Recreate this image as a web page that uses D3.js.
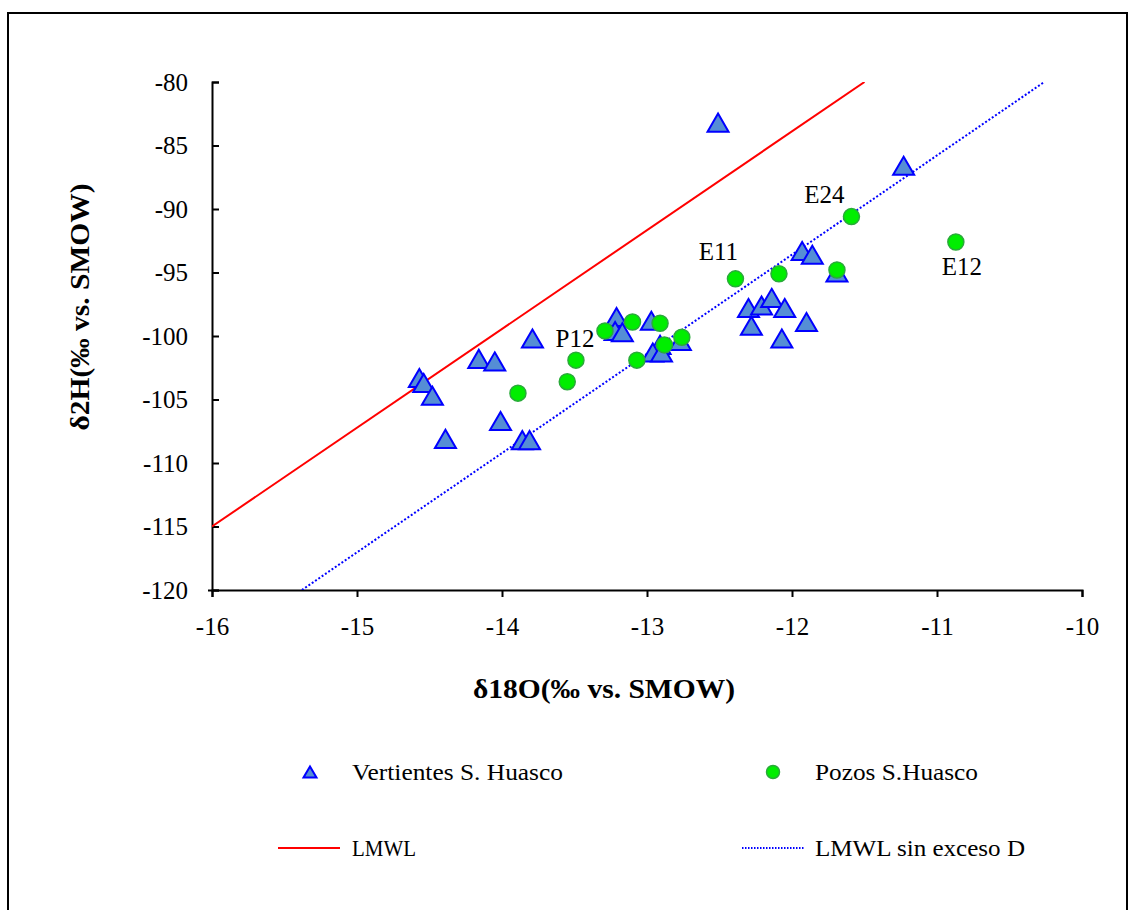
<!DOCTYPE html>
<html>
<head>
<meta charset="utf-8">
<script src="https://cdn.jsdelivr.net/npm/d3@7"></script>
<style>
  body { margin: 0; background: #fff; }
  svg text { font-family: "Liberation Serif", "Times New Roman", serif; fill: #000; }
</style>
</head>
<body>
<svg id="chart"></svg>
<script>
// Vertientes S. Huasco (triangles)
const vertO18 = [-12.51, -11.23, -11.93, -11.86, -11.69, -12.30, -12.21, -12.14, -12.05, -12.28,
  -11.90, -12.07, -13.21, -13.22, -13.17, -12.97, -12.91, -12.96, -12.90, -12.77,
  -13.79, -14.16, -14.05, -14.57, -14.54, -14.48, -14.01, -14.39, -13.86, -13.81];
const vertH2 = [-83.2, -86.6, -93.3, -93.6, -95.0, -97.8, -97.6, -97.0, -97.8, -99.2,
  -98.9, -100.2, -98.5, -99.6, -99.7, -98.8, -100.7, -101.3, -101.3, -100.4,
  -100.2, -101.8, -102.0, -103.3, -103.7, -104.7, -106.7, -108.1, -108.2, -108.2];

// Pozos S.Huasco (circles)
const pozoNames = ['E24', 'E12', 'E11', '', '', '', '', '', '', '', '', 'P12', '', ''];
const pozoO18 = [-11.59, -10.87, -12.39, -12.09, -11.69, -13.29, -13.10, -12.91, -12.76, -12.88,
  -13.07, -13.49, -13.55, -13.89];
const pozoH2 = [-90.6, -92.6, -95.5, -95.1, -94.8, -99.6, -98.9, -99.0, -100.1, -100.7,
  -101.9, -101.9, -103.6, -104.5];

// reference lines, end points
const lmwl = [[-16, -115], [-11.5, -80]];
const lmwlSinExceso = [[-15.38, -120], [-10.26, -80]];

const xTicks = [-16, -15, -14, -13, -12, -11, -10];
const yTicks = [-80, -85, -90, -95, -100, -105, -110, -115, -120];

const width = 1130, height = 910;
const margin = { top: 82, right: 48, bottom: 320, left: 212 };
const serif = '"Liberation Serif", "Times New Roman", serif';

const svg = d3.select('#chart').attr('width', width).attr('height', height);

// outer frame
svg.append('rect')
  .attr('x', 8).attr('y', 13)
  .attr('width', 1119).attr('height', 930)
  .attr('fill', 'none').attr('stroke', '#000').attr('stroke-width', 2);

const x = d3.scaleLinear().domain([-16, -10]).range([margin.left, width - margin.right]);
const y = d3.scaleLinear().domain([-120, -80]).range([height - margin.bottom, margin.top]);

svg.append('defs').append('clipPath').attr('id', 'plot')
  .append('rect')
  .attr('x', x(-16)).attr('y', y(-80))
  .attr('width', x(-10) - x(-16)).attr('height', y(-120) - y(-80));

// axes (plain hyphen minus like the original)
const fmt = d => String(d);
const xAxis = svg.append('g')
  .attr('transform', `translate(0,${y(-120)})`)
  .call(d3.axisBottom(x).tickValues(xTicks).tickSize(7).tickPadding(20).tickFormat(fmt));
const yAxis = svg.append('g')
  .attr('transform', `translate(${x(-16)},0)`)
  .call(d3.axisRight(y).tickValues(yTicks).tickSize(7).tickFormat(fmt));

[xAxis, yAxis].forEach(g => {
  g.attr('font-family', serif).attr('font-size', 25);
  g.select('.domain').attr('stroke', '#000').attr('stroke-width', 2);
  g.selectAll('.tick line').attr('stroke', '#000').attr('stroke-width', 2);
  g.selectAll('text').attr('fill', '#000');
});
// y labels sit left of the axis while ticks point inward
yAxis.selectAll('text').attr('x', -24).attr('text-anchor', 'end');
yAxis.selectAll('.tick').filter(d => d === -120).select('line').attr('x1', -4);

// lines
const line = d3.line().x(d => x(d[0])).y(d => y(d[1]));
const lines = svg.append('g').attr('clip-path', 'url(#plot)');
lines.append('path').datum(lmwl)
  .attr('d', line).attr('fill', 'none').attr('stroke', '#ff0000').attr('stroke-width', 2);
lines.append('path').datum(lmwlSinExceso)
  .attr('d', line).attr('fill', 'none').attr('stroke', '#0000ff')
  .attr('stroke-width', 2).attr('stroke-dasharray', '2,2');

// points
const triangle = (cx, cy, s) => {
  const w = s, h = s * 0.86;
  return `M${cx},${cy - h / 2}L${cx + w / 2},${cy + h / 2}L${cx - w / 2},${cy + h / 2}Z`;
};

const vert = vertO18.map((v, i) => ({ o: v, h: vertH2[i] }));
svg.append('g').selectAll('path')
  .data(vert)
  .enter().append('path')
  .attr('d', d => triangle(x(d.o), y(d.h), 21))
  .attr('fill', '#558ed5').attr('stroke', '#0000ff').attr('stroke-width', 2);

const pozos = pozoO18.map((v, i) => ({ o: v, h: pozoH2[i], name: pozoNames[i] }));
svg.append('g').selectAll('circle')
  .data(pozos)
  .enter().append('circle')
  .attr('cx', d => x(d.o)).attr('cy', d => y(d.h)).attr('r', 8)
  .attr('fill', '#00ee00').attr('stroke', '#2aaa3a').attr('stroke-width', 1.5);

// point labels
const labelOffset = { E24: [-27, -14], E12: [6, 33], E11: [-17, -19], P12: [-1, -13] };
svg.append('g').selectAll('text')
  .data(pozos.filter(d => d.name))
  .enter().append('text')
  .attr('x', d => x(d.o) + labelOffset[d.name][0])
  .attr('y', d => y(d.h) + labelOffset[d.name][1])
  .attr('text-anchor', 'middle')
  .attr('font-size', 25)
  .text(d => d.name);

// axis titles
svg.append('text')
  .attr('x', 604).attr('y', 698)
  .attr('text-anchor', 'middle').attr('font-size', 27).attr('font-weight', 'bold')
  .attr('textLength', 262).attr('lengthAdjust', 'spacingAndGlyphs')
  .text('δ18O(‰ vs. SMOW)');
svg.append('text')
  .attr('transform', 'translate(89,307) rotate(-90)')
  .attr('text-anchor', 'middle').attr('font-size', 27).attr('font-weight', 'bold')
  .attr('textLength', 247).attr('lengthAdjust', 'spacingAndGlyphs')
  .text('δ2H(‰ vs. SMOW)');

// legend
const legend = svg.append('g').attr('font-size', 23);
const legendText = (tx, ty, label, len) => legend.append('text')
  .attr('x', tx).attr('y', ty)
  .attr('textLength', len).attr('lengthAdjust', 'spacingAndGlyphs')
  .text(label);

legend.append('path').attr('d', triangle(310, 772, 13))
  .attr('fill', '#558ed5').attr('stroke', '#0000ff').attr('stroke-width', 2);
legendText(352, 780, 'Vertientes S. Huasco', 211);
legend.append('circle').attr('cx', 773).attr('cy', 772).attr('r', 6.5)
  .attr('fill', '#00ee00').attr('stroke', '#2aaa3a').attr('stroke-width', 1.5);
legendText(815, 780, 'Pozos S.Huasco', 163);
legend.append('line').attr('x1', 278).attr('x2', 340).attr('y1', 848).attr('y2', 848)
  .attr('stroke', '#ff0000').attr('stroke-width', 2);
legendText(352, 856, 'LMWL', 64);
legend.append('line').attr('x1', 742).attr('x2', 805).attr('y1', 848).attr('y2', 848)
  .attr('stroke', '#0000ff').attr('stroke-width', 2).attr('stroke-dasharray', '1.5,1.5');
legendText(815, 856, 'LMWL sin exceso D', 210);
</script>
</body>
</html>
